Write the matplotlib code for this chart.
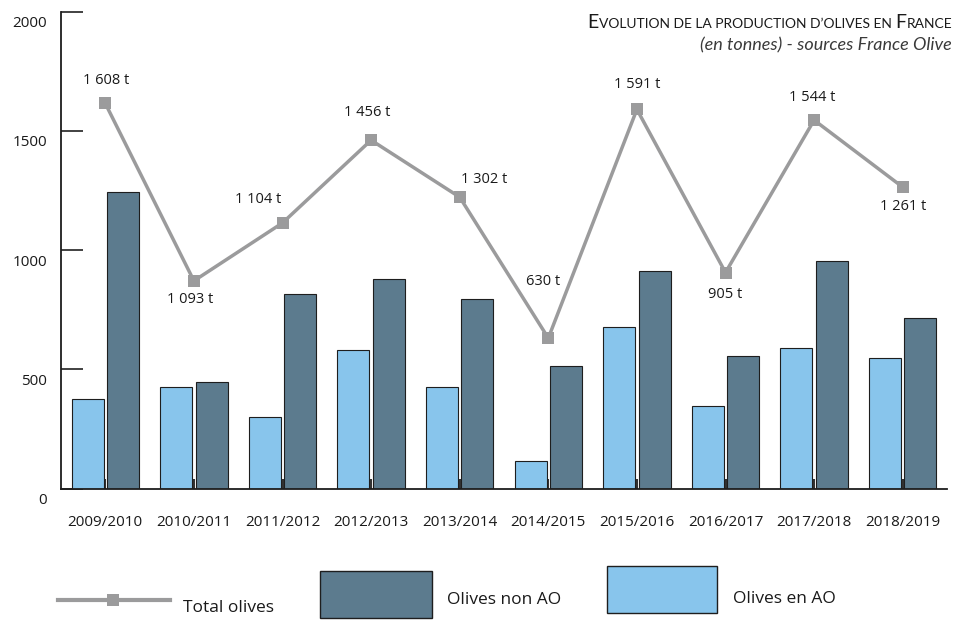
import matplotlib
matplotlib.use("Agg")
import matplotlib.pyplot as plt
from matplotlib.patches import Rectangle
from matplotlib.lines import Line2D
from matplotlib.transforms import ScaledTranslation
import numpy as np

# ---------------- data ----------------
seasons = ["2009/2010", "2010/2011", "2011/2012", "2012/2013", "2013/2014",
           "2014/2015", "2015/2016", "2016/2017", "2017/2018", "2018/2019"]
olives_ao = [374, 427, 299, 581, 426, 114, 679, 348, 589, 546]
olives_non_ao = [1244, 445, 816, 878, 795, 514, 912, 557, 955, 716]
total_olives = [1615, 871, 1114, 1461, 1222, 631, 1590, 906, 1545, 1264]
total_labels = ["1 608 t", "1 093 t", "1 104 t", "1 456 t", "1 302 t",
                "630 t", "1 591 t", "905 t", "1 544 t", "1 261 t"]
yticks = [0, 500, 1000, 1500, 2000]

# ---------------- style ----------------
W, H = 967, 620
LIGHT = "#88C5EC"
DARK = "#5C7B8E"
GREY = "#9B9B9C"
EDGE = "#1E1E1E"
TXT = "#1A1A1A"
FONT = "Open Sans"
# label offsets in pixels (dx, dy, y up)
label_offsets = [(1, 23), (-4, -19), (-24, 23), (-4, 28), (24, 18),
                 (-5, 57), (0, 25), (0, -22), (-2, 23), (0, -19)]

plt.rcParams["font.family"] = [FONT, "DejaVu Sans"]

fig = plt.figure(figsize=(W / 100, H / 100), dpi=100)
ax = fig.add_axes([61 / W, 1 - 488.6 / H, 886 / W, 477 / H])

x = np.arange(len(seasons))
ax.bar(x - 0.2, olives_ao, width=0.36, color=LIGHT, edgecolor=EDGE,
       linewidth=0.8, zorder=2)
ax.bar(x + 0.2, olives_non_ao, width=0.36, color=DARK, edgecolor=EDGE,
       linewidth=0.8, zorder=2)
ax.plot(x, total_olives, color=GREY, lw=2.5, marker="s", ms=8,
        markeredgewidth=0, zorder=4)

for xi, yi, lab, (dx, dy) in zip(x, total_olives, total_labels, label_offsets):
    ax.annotate(lab, (xi, yi), xytext=(dx * 0.72, dy * 0.72),
                textcoords="offset points", ha="center", va="center",
                fontsize=10.5, color=TXT, zorder=5)

ax.set_xlim(-0.5, 9.5)
ax.set_ylim(0, 2000)
for s in ("top", "right"):
    ax.spines[s].set_visible(False)
for s in ("left", "bottom"):
    ax.spines[s].set_color(EDGE)
    ax.spines[s].set_linewidth(1.3)

ax.set_yticks(yticks)
ax.set_yticklabels([str(v) for v in yticks])
ax.tick_params(axis="y", direction="in", length=16, width=1.3, color="#333333",
               pad=10, labelsize=11, labelcolor=TXT)
for lab in ax.get_yticklabels():
    lab.set_transform(lab.get_transform() +
                      ScaledTranslation(0, -10 / 100, fig.dpi_scale_trans))

ax.set_xticks(x)
ax.set_xticklabels(seasons)
ax.tick_params(axis="x", direction="in", length=7.5, width=1.5, color="#333333",
               pad=19, labelsize=11, labelcolor=TXT)

# ---------------- title (small caps emulation) ----------------
renderer = fig.canvas.get_renderer()
pieces = [("E", 14), ("VOLUTION DE LA PRODUCTION D\u2019OLIVES EN ", 10),
          ("F", 14), ("RANCE", 10)]
xr = 952 / W
ty = 1 - 28 / H
for txt, sz in reversed(pieces):
    t = fig.text(xr, ty, txt, ha="right", va="baseline", fontsize=sz,
                 family=["Lato", "DejaVu Sans"], color=TXT)
    bb = t.get_window_extent(renderer)
    xr -= bb.width / W

fig.text(952 / W, 1 - 45 / H, "(en tonnes) - sources France Olive",
         ha="right", va="center", fontsize=13, style="italic",
         fontweight="normal", family=["Lato", "DejaVu Sans"], color="#3A3A3A")

# ---------------- legend ----------------
def fx(px):
    return px / W

def fy(py):
    return 1 - py / H

fig.add_artist(Line2D([fx(58), fx(170)], [fy(600), fy(600)], color=GREY,
                      lw=3, transform=fig.transFigure))
fig.add_artist(Line2D([fx(113)], [fy(600)], color=GREY, marker="s", ms=8,
                      markeredgewidth=0, transform=fig.transFigure))
fig.text(fx(183), fy(608), "Total olives", ha="left", va="center",
         fontsize=12.5, color=TXT)

fig.add_artist(Rectangle((fx(320), fy(618)), fx(432) - fx(320), fy(571) - fy(618),
                         facecolor=DARK, edgecolor=EDGE, lw=1,
                         transform=fig.transFigure))
fig.text(fx(447), fy(600), "Olives non AO", ha="left", va="center",
         fontsize=12.5, color=TXT)

fig.add_artist(Rectangle((fx(607), fy(613)), fx(717) - fx(607), fy(566) - fy(613),
                         facecolor=LIGHT, edgecolor=EDGE, lw=1,
                         transform=fig.transFigure))
fig.text(fx(733), fy(599), "Olives en AO", ha="left", va="center",
         fontsize=12.5, color=TXT)

fig.savefig("out.png", dpi=100)
